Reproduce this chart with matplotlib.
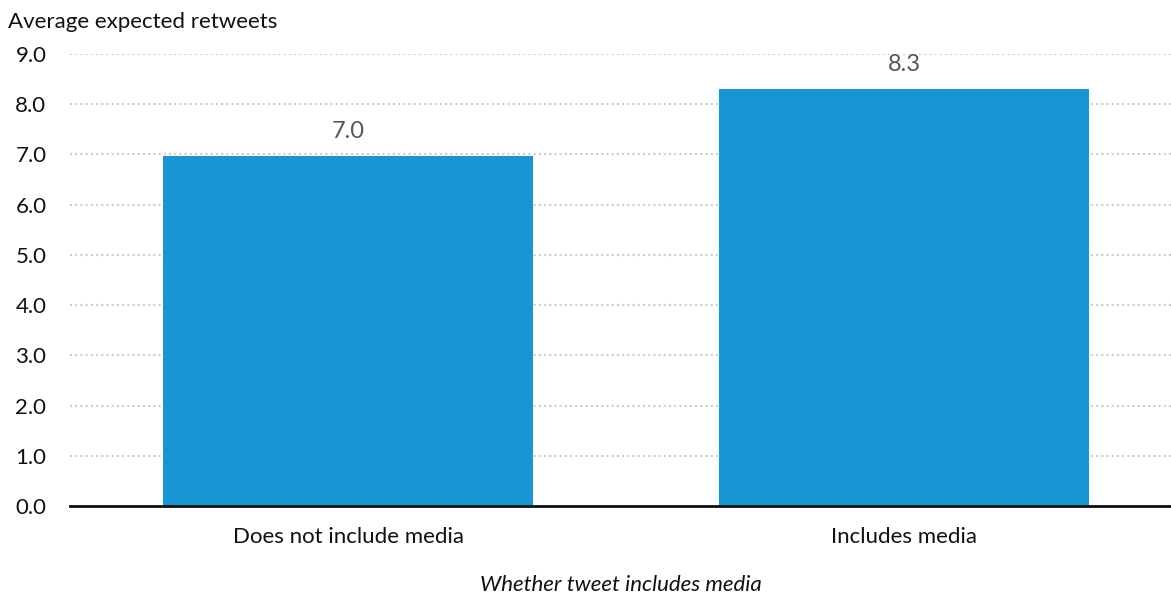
import matplotlib.pyplot as plt

categories = ["Does not include media", "Includes media"]
values = [6.97, 8.3]
labels = ["7.0", "8.3"]
yticks = [0, 1, 2, 3, 4, 5, 6, 7, 8, 9]

plt.rcParams['font.family'] = ['Lato', 'DejaVu Sans']

W, H = 1171, 594
fig = plt.figure(figsize=(W / 100, H / 100), dpi=100)
ax = fig.add_axes([70 / W, (H - 506) / H, 1101 / W, (506 - 54) / H])

x = list(range(len(categories)))
bars = ax.bar(x, values, width=0.665, color="#1896d3", zorder=2)
for b, lab in zip(bars, labels):
    ax.annotate(lab, (b.get_x() + b.get_width() / 2, b.get_height()),
                xytext=(0, 10), textcoords="offset points", ha="center",
                va="bottom", fontsize=17, color="#555555")

ax.set_xlim(-0.5, 1.48)
ax.set_ylim(0, 9)
ax.set_yticks(yticks)
ax.set_yticklabels([f"{v:.1f}" for v in yticks], fontsize=16, color="#111111")
ax.set_xticks(x)
ax.set_xticklabels(categories, fontsize=16, color="#111111")
ax.tick_params(axis="y", length=0, pad=17)
ax.tick_params(axis="x", length=0, pad=15)
ax.yaxis.grid(True, linestyle=(0, (1, 1.5)), color="#cccccc", linewidth=1.5, zorder=0)
ax.set_axisbelow(True)
for s in ["top", "right", "left"]:
    ax.spines[s].set_visible(False)
ax.spines["bottom"].set_linewidth(2)
ax.spines["bottom"].set_color("#111111")
ax.spines["bottom"].set_zorder(3)

ax.set_xlabel("Whether tweet includes media", fontsize=16, style="italic",
              color="#111111", labelpad=20)
fig.text(8 / W, (H - 22) / H, "Average expected retweets", fontsize=16,
         color="#111111", va="center", ha="left")

fig.savefig("out.png", dpi=100)
